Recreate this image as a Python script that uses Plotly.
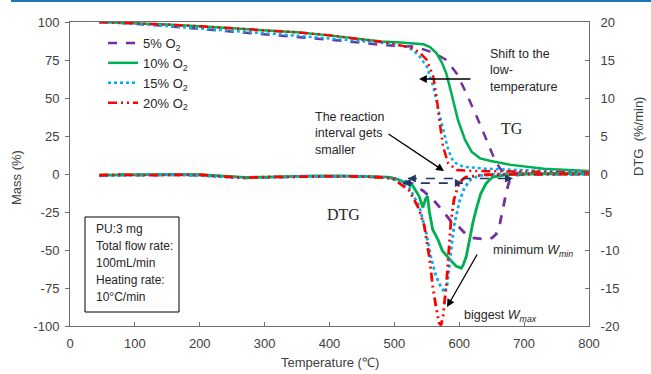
import plotly.graph_objects as go

# ---------------- data ----------------
series_names = ["5% O<sub>2</sub>", "10% O<sub>2</sub>", "15% O<sub>2</sub>", "20% O<sub>2</sub>"]

# TG (Mass %) curves
tg5_T = [45, 100, 150, 200, 250, 300, 350, 400, 450, 478, 510, 529, 545, 555, 568, 580, 596, 611, 627, 642, 655, 663, 670, 680, 720, 800]
tg5_m = [100, 98.9, 97.2, 95.4, 93.8, 92.2, 90.5, 88.4, 86.3, 84.9, 84.2, 83.8, 82, 80.5, 78, 75, 66.2, 53, 37.7, 22.4, 9.2, 3.5, 1.5, 0.8, 0.5, 0.3]

tg10_T = [45, 100, 150, 200, 250, 300, 350, 400, 450, 480, 510, 530, 545, 555, 565, 573, 580, 588, 598, 609, 619, 632, 647, 680, 730, 800]
tg10_m = [100, 99.3, 98.3, 97.2, 96, 94.8, 93.2, 91.2, 88.8, 87.2, 86.5, 86, 85.3, 83.5, 79.4, 73.5, 66.2, 53, 35.5, 22.4, 14.7, 10.3, 8.7, 6, 3.5, 2]

tg15_T = [45, 100, 150, 200, 250, 300, 350, 400, 450, 478, 500, 519, 530, 539, 550, 560, 568, 575, 583, 591, 606, 640, 700, 800]
tg15_m = [100, 98.9, 97.3, 95.6, 94, 92.6, 91, 89, 87.3, 86.5, 85.2, 83.8, 81, 77.2, 70.6, 57.4, 42, 29, 15.8, 8, 4.8, 3.5, 2.5, 1.5]

tg20_T = [45, 100, 150, 200, 250, 300, 350, 400, 450, 478, 500, 515, 529, 540, 550, 560, 565, 570, 575, 583, 596, 620, 700, 800]
tg20_m = [100, 99.3, 98.3, 97.2, 96, 94.8, 93.2, 91.2, 88.7, 87, 85.5, 84.2, 82.7, 79.5, 75, 64, 50.9, 33.5, 18, 7, 2.6, 2, 1.5, 1]

# DTG (%/min) curves
dtg5_T = [45, 80, 120, 160, 200, 240, 270, 300, 340, 380, 420, 460, 490, 508, 528, 544, 559, 574, 587, 600, 610, 620, 631, 641, 651, 657, 663, 668, 673, 678, 682, 700, 750, 800]
dtg5_d = [-0.2, -0.1, -0.15, -0.1, -0.15, -0.35, -0.5, -0.45, -0.35, -0.3, -0.3, -0.35, -0.45, -0.7, -1.3, -2.2, -3.3, -4.8, -6.2, -7.0, -7.9, -8.4, -8.5, -8.6, -8.4, -7.9, -6.4, -4.2, -2.2, -0.7, -0.2, -0.05, 0, 0]

dtg10_T = [45, 80, 120, 160, 200, 240, 270, 300, 340, 380, 420, 460, 490, 505, 518, 528, 538, 544, 548, 551, 554, 559, 567, 574, 585, 595, 603, 606, 611, 616, 621, 627, 633, 641, 651, 672, 700, 750, 800]
dtg10_d = [-0.15, -0.1, -0.1, -0.05, -0.1, -0.3, -0.45, -0.4, -0.3, -0.25, -0.25, -0.3, -0.4, -0.7, -1.1, -1.5, -2.9, -4.4, -3.3, -2.9, -5.0, -7.3, -8.6, -10.1, -11.2, -12.1, -12.4, -12.0, -10.8, -8.6, -6.4, -4.4, -2.6, -1.3, -0.4, -0.1, 0, 0.05, 0]

dtg15_T = [45, 80, 120, 160, 200, 240, 270, 300, 340, 380, 420, 460, 490, 508, 523, 538, 549, 556, 564, 572, 578, 582, 587, 592, 600, 608, 618, 631, 660, 700, 750, 800]
dtg15_d = [-0.25, -0.15, -0.1, -0.1, -0.2, -0.4, -0.5, -0.45, -0.35, -0.3, -0.3, -0.35, -0.5, -0.9, -1.8, -4.2, -7.7, -10.8, -13.4, -14.9, -15.6, -14.3, -10.3, -6.8, -3.7, -1.8, -0.7, -0.2, 0, 0, 0, 0]

dtg20_T = [45, 80, 120, 160, 200, 240, 270, 300, 340, 380, 420, 460, 490, 500, 510, 523, 538, 546, 554, 559, 564, 569, 572, 575, 580, 584, 587, 592, 600, 610, 640, 700, 750, 800]
dtg20_d = [-0.15, -0.1, -0.15, -0.1, -0.1, -0.35, -0.5, -0.4, -0.35, -0.3, -0.3, -0.35, -0.5, -0.7, -1.3, -2.2, -4.6, -6.8, -11, -14.7, -17.4, -19.6, -19.9, -18.7, -14.7, -10.3, -6.4, -3.3, -1.1, -0.4, -0.1, 0, 0, 0]

x_ticks = [0, 100, 200, 300, 400, 500, 600, 700, 800]
mass_ticks = [-100, -75, -50, -25, 0, 25, 50, 75, 100]
dtg_ticks = [-20, -15, -10, -5, 0, 5, 10, 15, 20]

colors = ["#7030a0", "#00b050", "#00b0f0", "#ff0000"]
dashes = ["dash", "solid", "dot", "9px,4px,2px,4px,2px,4px"]

# ---------------- figure ----------------
W, H = 651, 374
ML, MR, MT, MB = 70, 62, 22, 48
PW, PH = W - ML - MR, H - MT - MB

def PX(px):
    return (px - ML) / PW

def PY(py):
    return (H - MB - py) / PH

fig = go.Figure()

tg = [(tg5_T, tg5_m), (tg10_T, tg10_m), (tg15_T, tg15_m), (tg20_T, tg20_m)]
dtg = [(dtg5_T, dtg5_d), (dtg10_T, dtg10_d), (dtg15_T, dtg15_d), (dtg20_T, dtg20_d)]

for i, (tx, ty) in enumerate(tg):
    fig.add_trace(go.Scatter(x=tx, y=ty, mode="lines", name=series_names[i],
                             line=dict(color=colors[i], width=2.5, dash=dashes[i]),
                             yaxis="y", showlegend=True))
for i, (tx, ty) in enumerate(dtg):
    fig.add_trace(go.Scatter(x=tx, y=ty, mode="lines", name=series_names[i],
                             line=dict(color=colors[i], width=2.8, dash=dashes[i]),
                             yaxis="y2", showlegend=False))

axis_col = "#6e6e6e"
tick_font = dict(family="Liberation Sans, Arial, sans-serif", size=13, color="#404040")

def labels(vals):
    return [str(v) for v in vals]

fig.update_layout(
    width=W, height=H,
    margin=dict(l=ML, r=MR, t=MT, b=MB),
    paper_bgcolor="white", plot_bgcolor="white",
    font=dict(family="Liberation Sans, Arial, sans-serif", size=12, color="#404040"),
    xaxis=dict(range=[0, 800], tickvals=x_ticks, ticktext=labels(x_ticks), ticks="inside", ticklen=4,
               tickcolor=axis_col, showline=True, linecolor=axis_col, linewidth=1, mirror=True,
               showgrid=False, zeroline=False, tickfont=tick_font, ticklabelstandoff=5),
    yaxis=dict(range=[-100, 100], tickvals=mass_ticks, ticktext=labels(mass_ticks), ticks="outside",
               ticklen=4, tickcolor=axis_col, showline=True, linecolor=axis_col, linewidth=1,
               showgrid=False, zeroline=False, tickfont=tick_font, ticklabelstandoff=3),
    yaxis2=dict(range=[-20, 20], tickvals=dtg_ticks, ticktext=labels(dtg_ticks), ticks="inside",
                ticklen=4, tickcolor=axis_col, overlaying="y", side="right",
                showline=True, linecolor=axis_col, linewidth=1,
                showgrid=False, zeroline=False, tickfont=tick_font, ticklabelstandoff=8),
    legend=dict(x=PX(103), y=PY(28), xanchor="left", yanchor="top",
                bgcolor="rgba(0,0,0,0)", font=dict(size=13, color="#262626"),
                tracegroupgap=0),
)

txt = "#262626"
ann = []

def text_ann(t, px, py, size=12.5, xa="center", ya="middle", align="center", family=None, angle=0, color=txt):
    f = dict(size=size, color=color)
    if family:
        f["family"] = family
    ann.append(dict(text=t, x=PX(px), y=PY(py), xref="paper", yref="paper", showarrow=False,
                    xanchor=xa, yanchor=ya, align=align, textangle=angle, font=f))

# axis titles
text_ann("Mass (%)", 17, 178, size=13, angle=-90, color="#404040")
text_ann("DTG  (%/min)", 638, 137, size=13, angle=-90, color="#404040")
text_ann("Temperature (℃)", 330, 362, size=13, color="#404040")

# text labels
text_ann("Shift to the<br>low-<br>temperature", 488, 70, xa="left", align="left")
text_ann("The reaction<br>interval gets<br>smaller", 313, 133, xa="left", align="left")
serif = "Liberation Serif, Times New Roman, serif"
text_ann("TG", 512, 128, size=16, family=serif)
text_ann("DTG", 343, 214, size=16, family=serif)
text_ann("minimum <i>W<sub>min</sub></i>", 533, 251)
text_ann("biggest <i>W<sub>max</sub></i>", 500, 316)

# box text
box_lines = ["PU:3 mg", "Total flow rate:", "100mL/min", "Heating rate:", "10°C/min"]
box_y = [229, 246, 263, 280, 297]
for t, yy in zip(box_lines, box_y):
    text_ann(t, 94, yy, size=12, xa="left", align="left")

# black arrows
def arrow(tipx, tipy, tailx, taily):
    ann.append(dict(text="", x=PX(tipx), y=PY(tipy), xref="paper", yref="paper", showarrow=True,
                    ax=tailx - tipx, ay=taily - tipy, arrowhead=2, arrowsize=1.2, arrowwidth=1.3,
                    arrowcolor="black"))

arrow(419, 79, 472, 79)
arrow(444, 171, 387, 133)
arrow(447, 307, 478, 253)

# dashed double arrows (interval)
navy = "#1f3864"
intervals = [(520.8, 682.8, -0.6), (513.0, 605.6, -1.2)]
shapes = []
for x0, x1, yv in intervals:
    shapes.append(dict(type="line", xref="x", yref="y2", x0=x0, x1=x1, y0=yv, y1=yv,
                       line=dict(color=navy, width=1.6, dash="dash")))
    ann.append(dict(text="", x=x0, y=yv, xref="x", yref="y2", showarrow=True, ax=9, ay=0,
                    arrowhead=2, arrowsize=1, arrowwidth=1.6, arrowcolor=navy))
    ann.append(dict(text="", x=x1, y=yv, xref="x", yref="y2", showarrow=True, ax=-9, ay=0,
                    arrowhead=2, arrowsize=1, arrowwidth=1.6, arrowcolor=navy))

# info box
shapes.append(dict(type="rect", xref="paper", yref="paper", x0=PX(85), x1=PX(179), y0=PY(312), y1=PY(217),
                   line=dict(color="black", width=1), fillcolor="rgba(0,0,0,0)"))
# page rule at the very top
shapes.append(dict(type="line", xref="paper", yref="paper", x0=PX(11), x1=PX(651), y0=PY(1), y1=PY(1),
                   line=dict(color="#1b75bc", width=2)))

fig.update_layout(annotations=ann, shapes=shapes)
fig.write_html("out.html")
